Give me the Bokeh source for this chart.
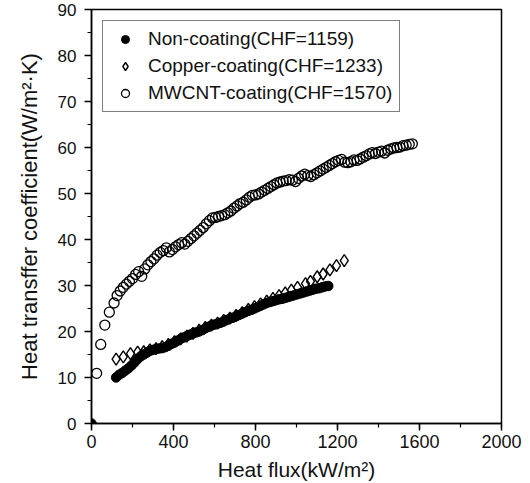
from bokeh.plotting import figure
from bokeh.models import Range1d, SingleIntervalTicker, Legend, LegendItem
from bokeh.embed import file_html
from bokeh.resources import INLINE

# Non-coating (CHF=1159)
non_x = [0, 120, 135, 150, 165, 180, 195, 210, 225, 240, 255, 270, 285, 300, 315, 330, 345, 360, 375,
         390, 405, 420, 435, 450, 465, 480, 495, 510, 525, 540, 555, 570, 585, 600, 615, 630, 645, 660,
         675, 690, 705, 720, 735, 750, 765, 780, 795, 810, 825, 840, 855, 870, 885, 900, 915, 930, 945,
         960, 975, 990, 1005, 1020, 1035, 1050, 1065, 1080, 1095, 1110, 1125, 1140, 1155]
non_y = [0, 10.0, 10.6, 11.0, 11.5, 12.0, 12.6, 13.3, 14.0, 14.6, 15.0, 15.4, 15.8, 16.0, 16.2, 16.3,
         16.4, 16.6, 16.9, 17.3, 17.6, 18.0, 18.4, 18.7, 19.0, 19.3, 19.6, 19.8, 20.0, 20.3, 20.7, 21.0,
         21.3, 21.5, 21.7, 21.9, 22.2, 22.5, 22.8, 23.0, 23.3, 23.6, 23.9, 24.2, 24.5, 24.7, 25.0, 25.3,
         25.6, 25.9, 26.2, 26.4, 26.6, 26.8, 27.0, 27.1, 27.3, 27.5, 27.7, 27.9, 28.1, 28.3, 28.5, 28.7,
         28.9, 29.1, 29.3, 29.4, 29.6, 29.8, 29.9]

# Copper-coating (CHF=1233)
cu_x = [120, 155, 190, 225, 255, 285, 315, 345, 375, 405, 435, 465, 495, 525, 555, 585, 615, 645, 675,
        705, 735, 765, 795, 825, 855, 885, 915, 945, 975, 1005, 1044, 1068, 1101, 1130, 1163, 1195, 1233]
cu_y = [14.0, 14.5, 15.2, 15.5, 15.6, 16.0, 16.3, 16.7, 17.2, 17.8, 18.4, 19.0, 19.6, 20.3, 20.9, 21.4,
        21.8, 22.4, 22.9, 23.5, 24.1, 24.8, 25.4, 26.0, 26.6, 27.2, 27.8, 28.4, 29.0, 29.6, 30.4, 30.9,
        31.9, 32.5, 33.4, 34.3, 35.4]

# MWCNT-coating (CHF=1570)
cnt_x = [25, 45, 65, 87, 110, 125, 140, 155, 170, 185, 200, 215, 230, 245, 260, 275, 290, 305, 320, 335,
         350, 365, 380, 395, 410, 425, 440, 455, 470, 485, 500, 515, 530, 545, 560, 575, 590, 605, 620,
         635, 650, 665, 680, 695, 710, 725, 740, 755, 770, 785, 800, 815, 830, 845, 860, 875, 890, 905,
         920, 935, 950, 965, 980, 995, 1010, 1025, 1040, 1055, 1070, 1085, 1100, 1115, 1130, 1145, 1160,
         1175, 1190, 1205, 1220, 1235, 1250, 1265, 1280, 1295, 1310, 1325, 1340, 1355, 1370, 1385, 1400,
         1415, 1430, 1445, 1460, 1475, 1490, 1505, 1520, 1535, 1550, 1565]
cnt_y = [10.9, 17.2, 21.4, 24.2, 26.2, 27.8, 28.8, 29.6, 30.3, 30.9, 31.5, 32.4, 33.0, 32.0, 33.6, 34.5,
         35.2, 35.8, 36.6, 37.2, 37.6, 38.2, 37.3, 37.8, 38.4, 38.9, 39.3, 39.0, 39.6, 40.2, 40.8, 41.4,
         42.0, 42.6, 43.4, 44.1, 44.7, 44.8, 45.0, 45.2, 45.4, 45.8, 46.2, 46.8, 47.3, 47.8, 48.1, 48.6,
         49.2, 49.6, 49.7, 49.9, 50.3, 50.7, 51.1, 51.5, 51.9, 52.3, 52.5, 52.7, 52.8, 53.0, 52.9, 52.6,
         53.3, 53.8, 54.2, 53.9, 53.7, 54.1, 54.5, 54.9, 55.3, 55.7, 56.1, 56.5, 56.9, 57.2, 57.4, 56.8,
         56.7, 56.9, 57.3, 57.2, 57.5, 57.9, 58.2, 58.6, 58.9, 58.7, 59.0, 59.2, 58.8, 59.4, 59.7, 59.9,
         60.0, 60.1, 60.4, 60.5, 60.7, 60.8]

labels = ["Non-coating(CHF=1159)", "Copper-coating(CHF=1233)", "MWCNT-coating(CHF=1570)"]
x_label = "Heat flux(kW/m²)"
y_label = "Heat transffer coefficient(W/m²·K)"

FONT = "Liberation Sans"
TXT = "#111111"

p = figure(width=530, height=483, output_backend="svg", toolbar_location=None,
           x_range=Range1d(0, 2000), y_range=Range1d(0, 90),
           min_border_left=91, min_border_right=29, min_border_top=9, min_border_bottom=60)
p.grid.visible = False
p.outline_line_color = "black"
p.outline_line_width = 1.5
p.background_fill_color = "white"
p.border_fill_color = "white"

r_cnt = p.scatter(cnt_x, cnt_y, marker="circle", size=10, fill_color="white", fill_alpha=0,
                  line_color="black", line_width=1.3)
r_cu = p.scatter(cu_x, cu_y, marker="diamond", size=12, fill_color="white",
                 fill_alpha=0, line_color="black", line_width=1.4)
r_non = p.scatter(non_x, non_y, marker="circle", size=9.5, fill_color="black", line_color="black")

p.xaxis.ticker = SingleIntervalTicker(interval=400, num_minor_ticks=2)
p.yaxis.ticker = SingleIntervalTicker(interval=10, num_minor_ticks=2)
for ax in (p.xaxis[0], p.yaxis[0]):
    ax.axis_line_color = "black"
    ax.axis_line_width = 1.5
    ax.major_tick_in = 0
    ax.major_tick_out = 7
    ax.minor_tick_in = 0
    ax.minor_tick_out = 4
    ax.major_tick_line_width = 1.5
    ax.minor_tick_line_width = 1.2
    ax.major_label_text_font = FONT
    ax.major_label_text_color = TXT
    ax.axis_label_text_font = FONT
    ax.axis_label_text_color = TXT
    ax.axis_label_text_font_style = "normal"

p.xaxis.major_label_text_font_size = "18px"
p.yaxis.major_label_text_font_size = "17px"
p.xaxis.major_label_standoff = 4
p.yaxis.major_label_standoff = 8
p.xaxis.axis_label = x_label
p.yaxis.axis_label = y_label
p.xaxis.axis_label_text_font_size = "21px"
p.yaxis.axis_label_text_font_size = "22px"
p.xaxis.axis_label_standoff = 7
p.yaxis.axis_label_standoff = 13

legend = Legend(items=[LegendItem(label=labels[0], renderers=[r_non]),
                       LegendItem(label=labels[1], renderers=[r_cu]),
                       LegendItem(label=labels[2], renderers=[r_cnt])],
                location="top_left")
legend.margin = 11
legend.padding = 7
legend.spacing = 5
legend.glyph_height = 20
legend.glyph_width = 30
legend.label_height = 20
legend.label_standoff = 8
legend.label_text_font = FONT
legend.label_text_font_size = "19px"
legend.label_text_color = TXT
legend.border_line_color = "black"
legend.border_line_width = 1.5
legend.background_fill_color = "white"
legend.background_fill_alpha = 1
p.add_layout(legend)

open("out.html", "w").write(file_html(p, INLINE))
